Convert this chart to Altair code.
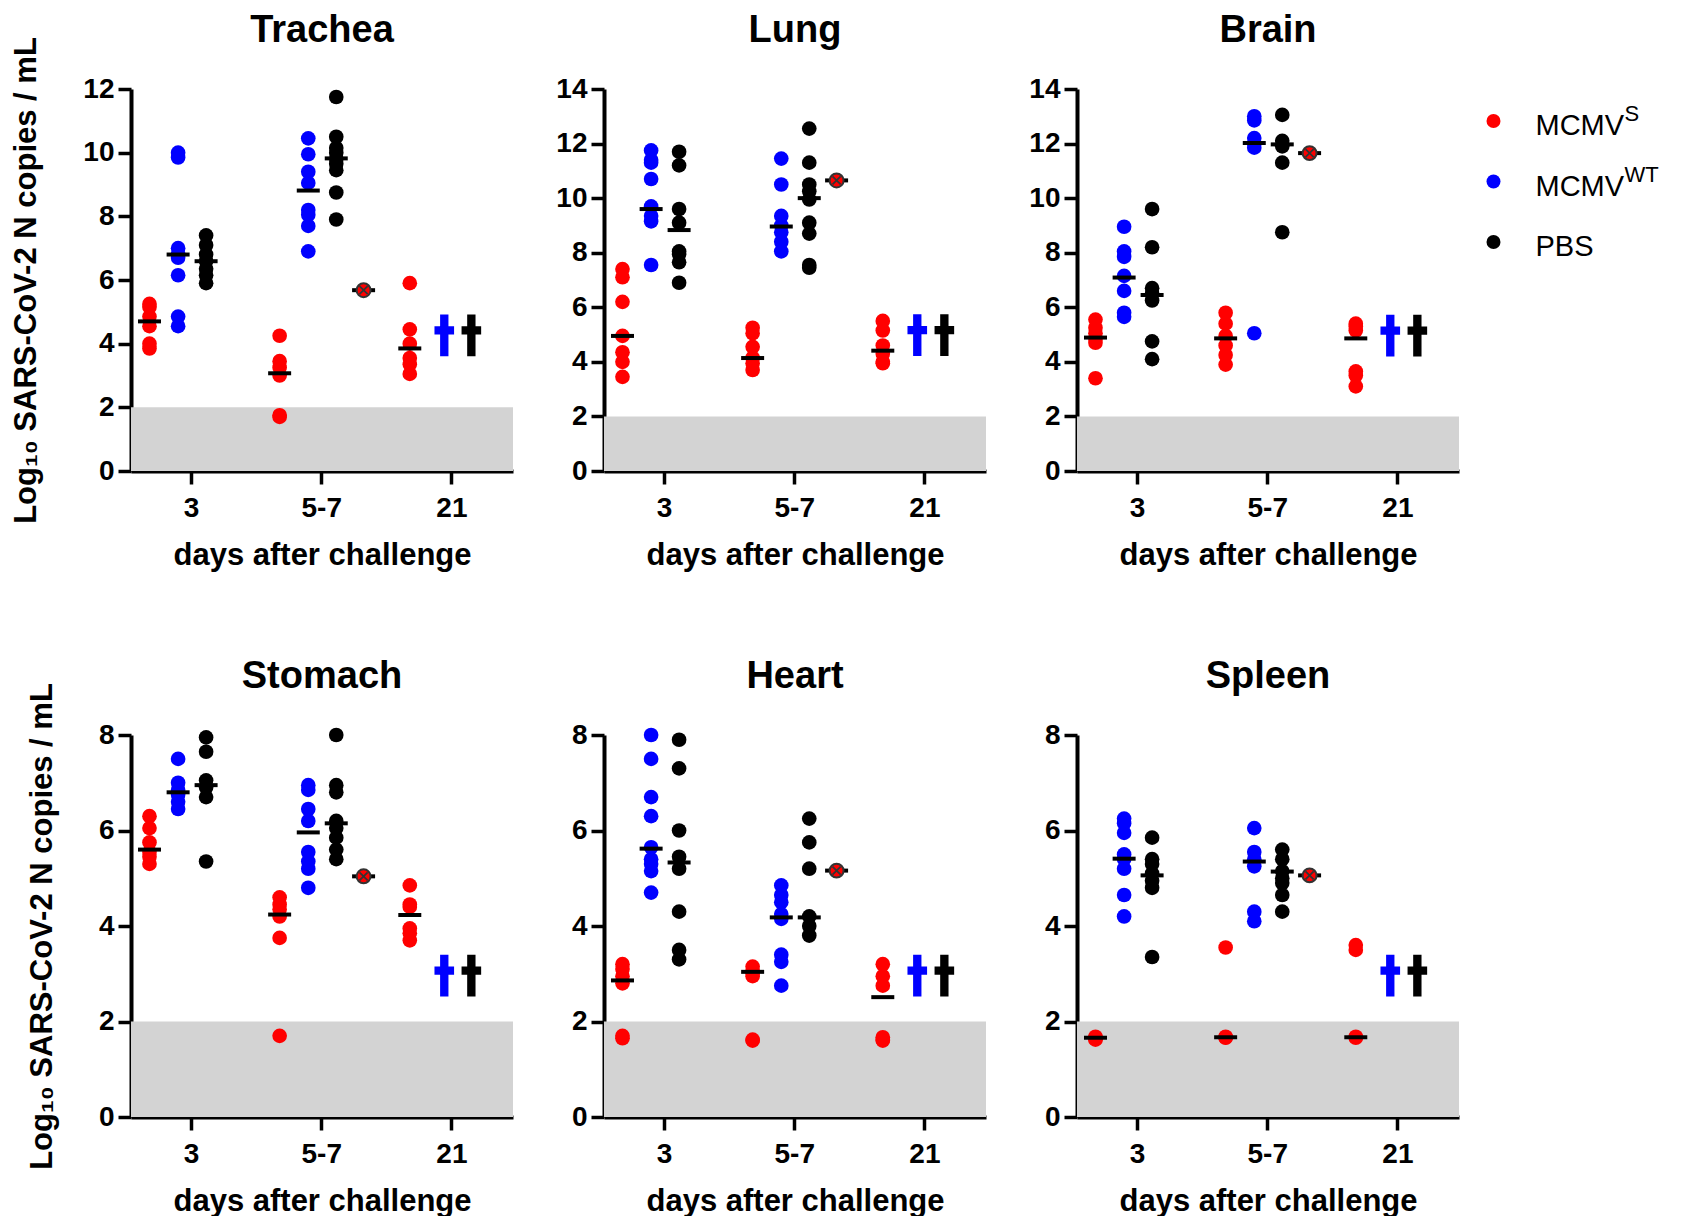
import altair as alt
import pandas as pd

FONT = "Liberation Sans"
DAYS = ["3", "5-7", "21"]
SERIES = ["MCMV S", "MCMV WT", "PBS"]
COLORS = ["#FF0000", "#0000FF", "#000000"]
GROUP_OFFSETS = [-0.32, -0.10, 0.115]
EXTRA_OFFSET = 0.325
DAGGER_OFFSETS = [-0.055, 0.153]
X_DOMAIN = [-0.462, 2.473]
LOD = 2
PANEL_W = 382
PANEL_H = 382
Y_TITLE = "Log\u2081\u2080 SARS-CoV-2 N copies / mL"
X_TITLE = "days after challenge"

# ---- Trachea ----
TRACHEA_S = [[5.25, 5.15, 4.85, 4.55, 4.0, 3.85], [4.25, 3.45, 3.25, 3.0, 1.75, 1.7], [5.9, 4.45, 4.0, 3.55, 3.35, 3.05]]
TRACHEA_WT = [[10.0, 9.85, 7.0, 6.8, 6.7, 6.15, 4.85, 4.55], [10.45, 9.95, 9.4, 9.05, 8.2, 8.05, 7.7, 6.9], []]
TRACHEA_PBS = [[7.4, 7.1, 6.8, 6.6, 6.35, 6.15, 5.9], [11.75, 10.5, 10.15, 10.0, 9.8, 9.65, 9.45, 8.75, 7.9], []]
TRACHEA_MED = [[4.7, 3.07, 3.85], [6.8, 8.81, None], [6.59, 9.82, None]]
TRACHEA_EXTRA = 5.68
TRACHEA_DAGGER = 4.26

# ---- Lung ----
LUNG_S = [[7.4, 7.1, 6.2, 4.95, 4.35, 4.0, 3.45], [5.25, 5.05, 4.55, 4.15, 3.95, 3.7], [5.5, 5.15, 4.6, 4.3, 4.0, 3.95]]
LUNG_WT = [[11.75, 11.4, 11.3, 10.7, 9.7, 9.35, 9.15, 7.55], [11.45, 10.5, 9.35, 9.0, 8.75, 8.4, 8.05], []]
LUNG_PBS = [[11.7, 11.2, 9.6, 9.1, 8.05, 7.95, 7.65, 6.9], [12.55, 11.3, 10.5, 10.25, 9.95, 9.1, 8.7, 7.55, 7.45], []]
LUNG_MED = [[4.95, 4.14, 4.41], [9.6, 8.96, None], [8.83, 10.0, None]]
LUNG_EXTRA = 10.65
LUNG_DAGGER = 4.98

# ---- Brain ----
BRAIN_S = [[5.55, 5.25, 5.05, 4.85, 4.7, 3.4], [5.8, 5.4, 4.95, 4.6, 4.25, 3.9], [5.4, 5.3, 5.15, 3.65, 3.5, 3.1]]
BRAIN_WT = [[8.95, 8.05, 7.85, 7.15, 6.6, 5.8, 5.65], [13.0, 12.85, 12.2, 12.0, 11.85, 5.05], []]
BRAIN_PBS = [[9.6, 8.2, 6.7, 6.5, 6.25, 4.75, 4.1], [13.05, 12.1, 11.9, 11.3, 8.75], []]
BRAIN_MED = [[4.89, 4.86, 4.86], [7.09, 12.02, None], [6.45, 11.97, None]]
BRAIN_EXTRA = 11.65
BRAIN_DAGGER = 4.96

# ---- Stomach ----
STOMACH_S = [[6.3, 6.05, 5.75, 5.55, 5.45, 5.3], [4.6, 4.45, 4.35, 4.2, 3.75, 1.7], [4.85, 4.45, 4.4, 3.95, 3.85, 3.7]]
STOMACH_WT = [[7.5, 7.0, 6.85, 6.75, 6.6, 6.45], [6.95, 6.85, 6.45, 6.2, 5.55, 5.35, 5.2, 4.8], []]
STOMACH_PBS = [[7.95, 7.65, 7.05, 6.9, 6.7, 5.35], [8.0, 6.95, 6.8, 6.2, 6.05, 5.85, 5.6, 5.4], []]
STOMACH_MED = [[5.6, 4.24, 4.23], [6.8, 5.96, None], [6.95, 6.15, None]]
STOMACH_EXTRA = 5.04
STOMACH_DAGGER = 2.96

# ---- Heart ----
HEART_S = [[3.2, 3.1, 2.95, 2.8, 1.7, 1.65], [3.15, 3.05, 3.0, 2.95, 1.62, 1.6], [3.2, 2.95, 2.75, 1.67, 1.62, 1.6]]
HEART_WT = [[8.0, 7.5, 6.7, 6.3, 5.65, 5.4, 5.3, 5.15, 4.7], [4.85, 4.65, 4.5, 4.25, 4.15, 3.4, 3.25, 2.75], []]
HEART_PBS = [[7.9, 7.3, 6.0, 5.45, 5.2, 4.3, 3.5, 3.3], [6.25, 5.75, 5.2, 4.2, 4.0, 3.8], []]
HEART_MED = [[2.86, 3.04, 2.51], [5.62, 4.18, None], [5.33, 4.18, None]]
HEART_EXTRA = 5.16
HEART_DAGGER = 2.96

# ---- Spleen ----
SPLEEN_S = [[1.68, 1.66, 1.64, 1.62], [3.55, 1.68, 1.67, 1.66], [3.6, 3.5, 1.68, 1.66]]
SPLEEN_WT = [[6.25, 6.15, 5.95, 5.5, 5.4, 5.2, 4.65, 4.2], [6.05, 5.55, 5.4, 5.25, 4.3, 4.1], []]
SPLEEN_PBS = [[5.85, 5.4, 5.3, 5.1, 4.95, 4.8, 3.35], [5.6, 5.4, 5.15, 5.0, 4.9, 4.65, 4.3], []]
SPLEEN_MED = [[1.66, 1.67, 1.67], [5.41, 5.35, None], [5.06, 5.14, None]]
SPLEEN_EXTRA = 5.06
SPLEEN_DAGGER = 2.96

# ---- Legend ----
LEGEND_LABELS = ["MCMV", "MCMV", "PBS"]
LEGEND_SUPS = ["S", "WT", ""]

DAGGER_PATH = ("M-0.2,-1L0.2,-1L0.2,-0.44L0.47,-0.44L0.47,-0.04L0.2,-0.04L0.2,1"
               "L-0.2,1L-0.2,-0.04L-0.47,-0.04L-0.47,-0.44L-0.2,-0.44Z")
X_PATH = "M-0.58,-0.58L0.58,0.58M-0.58,0.58L0.58,-0.58"

color_scale = alt.Scale(domain=SERIES, range=COLORS)


def panel(title, ymax, s, wt, pbs, med, extra, dagger, ytitle, legend=False):
    pts = []
    for gi, groups in enumerate([s, wt, pbs]):
        for di, vals in enumerate(groups):
            for v in vals:
                pts.append({"x": di + GROUP_OFFSETS[gi], "y": v, "series": SERIES[gi]})
    meds = []
    for gi, m in enumerate(med):
        for di, v in enumerate(m):
            if v is not None:
                meds.append({"x": di + GROUP_OFFSETS[gi], "y": v})
    meds.append({"x": 1 + EXTRA_OFFSET, "y": extra})
    extra_df = pd.DataFrame([{"x": 1 + EXTRA_OFFSET, "y": extra}])
    dag_df = pd.DataFrame([{"x": 2 + DAGGER_OFFSETS[k], "y": dagger, "series": SERIES[k + 1]} for k in range(2)])

    x_enc = alt.X("x:Q", scale=alt.Scale(domain=X_DOMAIN, nice=False, zero=False),
                  axis=alt.Axis(values=[0, 1, 2], labelExpr="['3','5-7','21'][datum.value]",
                                title=X_TITLE, labelPadding=10, titlePadding=18))
    y_enc = alt.Y("y:Q", scale=alt.Scale(domain=[0, ymax], nice=False, zero=True),
                  axis=alt.Axis(values=list(range(0, ymax + 1, 2)), title=ytitle,
                                labelPadding=4, titlePadding=40))

    band = alt.Chart(pd.DataFrame({"y": [0], "y2": [LOD]})).mark_rect(color="#D3D3D3").encode(
        x=alt.value(0), x2=alt.value(PANEL_W), y=y_enc, y2="y2:Q")
    dots = alt.Chart(pd.DataFrame(pts)).mark_circle(size=215, opacity=1).encode(
        x=x_enc, y=y_enc, color=alt.Color("series:N", scale=color_scale, legend=None))
    ticks = alt.Chart(pd.DataFrame(meds)).mark_tick(orient="horizontal", size=23, thickness=4,
                                                   color="black", opacity=1).encode(x=x_enc, y=y_enc)
    ex_circle = alt.Chart(extra_df).mark_point(shape="circle", filled=True, fill="#FF0000",
                                               stroke="#333333", strokeWidth=2, size=195,
                                               opacity=1).encode(x=x_enc, y=y_enc)
    ex_x = alt.Chart(extra_df).mark_point(shape=X_PATH, filled=False, color="#333333",
                                          strokeWidth=1.8, size=195, opacity=1).encode(x=x_enc, y=y_enc)
    daggers = alt.Chart(dag_df).mark_point(shape=DAGGER_PATH, filled=True, size=1739, opacity=1,
                                           strokeWidth=0).encode(
        x=x_enc, y=y_enc, color=alt.Color("series:N", scale=color_scale, legend=None))
    head = alt.Chart(pd.DataFrame({"t": [title]})).mark_text(
        font=FONT, fontSize=38, fontWeight="bold", color="black", align="center",
        baseline="alphabetic").encode(x=alt.value(PANEL_W / 2), y=alt.value(-47), text="t:N")

    main = alt.layer(band, dots, ticks, ex_circle, ex_x, daggers, head)

    if legend:
        leg_df = pd.DataFrame({"label": LEGEND_LABELS, "sup": LEGEND_SUPS, "series": SERIES,
                               "key": SERIES})
        ly = alt.Y("key:N", scale=alt.Scale(domain=SERIES, range=[32, 153], padding=0), axis=None)
        l_dots = alt.Chart(leg_df).mark_circle(size=195, opacity=1).encode(
            x=alt.value(416.5), y=ly, color=alt.Color("series:N", scale=color_scale, legend=None))
        l_text = alt.Chart(leg_df).mark_text(align="left", baseline="middle", font=FONT,
                                             fontSize=29, color="black", dy=5).encode(
            x=alt.value(458.5), y=ly, text="label:N")
        l_sup = alt.Chart(leg_df).mark_text(align="left", baseline="middle", font=FONT,
                                            fontSize=22, color="black", dy=-7, dx=89).encode(
            x=alt.value(458.5), y=ly, text="sup:N")
        main = alt.layer(main, alt.layer(l_dots, l_text, l_sup)).resolve_scale(y="independent")

    return main.properties(width=PANEL_W, height=PANEL_H)


charts = [
    panel("Trachea", 12, TRACHEA_S, TRACHEA_WT, TRACHEA_PBS, TRACHEA_MED, TRACHEA_EXTRA, TRACHEA_DAGGER, Y_TITLE),
    panel("Lung", 14, LUNG_S, LUNG_WT, LUNG_PBS, LUNG_MED, LUNG_EXTRA, LUNG_DAGGER, ""),
    panel("Brain", 14, BRAIN_S, BRAIN_WT, BRAIN_PBS, BRAIN_MED, BRAIN_EXTRA, BRAIN_DAGGER, "", legend=True),
    panel("Stomach", 8, STOMACH_S, STOMACH_WT, STOMACH_PBS, STOMACH_MED, STOMACH_EXTRA, STOMACH_DAGGER, Y_TITLE),
    panel("Heart", 8, HEART_S, HEART_WT, HEART_PBS, HEART_MED, HEART_EXTRA, HEART_DAGGER, ""),
    panel("Spleen", 8, SPLEEN_S, SPLEEN_WT, SPLEEN_PBS, SPLEEN_MED, SPLEEN_EXTRA, SPLEEN_DAGGER, ""),
]

chart = alt.concat(*charts, columns=3, spacing={"row": 264, "column": 91}, bounds="flush").properties(
    padding={"left": 2, "top": 4, "right": 0, "bottom": 0}
).configure_axis(
    domainColor="black", domainWidth=4, tickColor="black", tickWidth=3.5, tickSize=13, grid=False,
    labelFont=FONT, labelFontSize=28, labelFontWeight="bold", labelColor="black",
    titleFont=FONT, titleFontSize=31, titleFontWeight="bold", titleColor="black",
).configure_view(strokeWidth=0)

chart.save("out.html", embed_options={"renderer": "svg", "actions": False})
